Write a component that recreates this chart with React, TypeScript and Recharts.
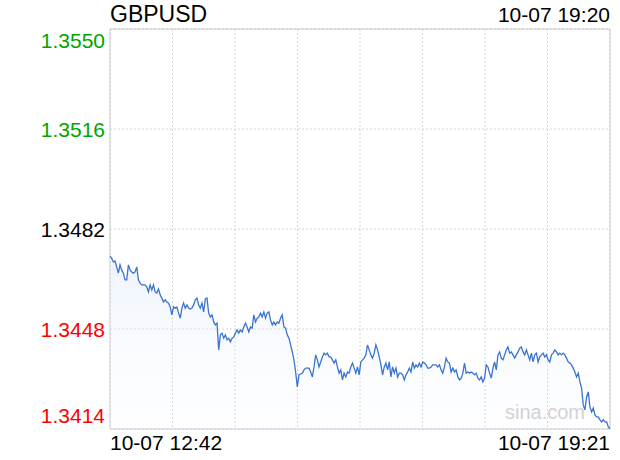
import React from 'react';
import { AreaChart, Area, XAxis, YAxis, CartesianGrid, ReferenceArea } from 'recharts';

const TITLE = 'GBPUSD';
const UPDATED = '10-07 19:20';
const TIME_LABELS = ['10-07 12:42', '10-07 19:21'];
const PRICE_TICKS = [1.355, 1.3516, 1.3482, 1.3448, 1.3414];
const PREV_CLOSE = 1.3482;

// minute prices, left to right
const PRICES = [
  1.34728, 1.34721, 1.34708, 1.34711, 1.34691, 1.3467, 1.34698, 1.34681, 1.3467, 1.34647,
  1.34647, 1.34698, 1.34681, 1.34674, 1.3467, 1.34674, 1.34691, 1.34647, 1.34636, 1.3463,
  1.3463, 1.3463, 1.34623, 1.34606, 1.3463, 1.34613, 1.3463, 1.34606, 1.34602, 1.34616,
  1.34596, 1.34585, 1.34572, 1.34579, 1.34572, 1.34568, 1.34555, 1.34528, 1.34555, 1.34551,
  1.34555, 1.34534, 1.34517, 1.34551, 1.34568, 1.34551, 1.34562, 1.34551, 1.34548, 1.34551,
  1.34562, 1.34579, 1.34585, 1.34562, 1.34551, 1.34568, 1.34538, 1.34582,
  1.34585, 1.34534, 1.34521, 1.34528, 1.34504, 1.34494, 1.345, 1.34409, 1.3446, 1.34466,
  1.34449, 1.3446, 1.34443, 1.34449, 1.34436, 1.34449, 1.34453, 1.34466, 1.34477, 1.34466,
  1.34477, 1.3447, 1.34487, 1.345, 1.34487, 1.3447, 1.34487, 1.34483, 1.34528, 1.34504,
  1.34517, 1.34521, 1.34534, 1.34521, 1.34538, 1.34517, 1.34534, 1.34538, 1.34511, 1.34494,
  1.34504, 1.34494, 1.34504, 1.345, 1.34517, 1.34528, 1.34487, 1.34483, 1.3446, 1.34449,
  1.34426, 1.34402, 1.34375, 1.34334, 1.34283, 1.34324, 1.34327, 1.3433, 1.34341, 1.34347,
  1.34347, 1.34347, 1.34334, 1.34317, 1.34351, 1.34392, 1.34375, 1.34351, 1.34368, 1.34385,
  1.34398, 1.34392, 1.34398, 1.34385, 1.34385, 1.34375, 1.34364, 1.34375, 1.34351, 1.3433,
  1.34341, 1.34307, 1.3433, 1.34317, 1.34334, 1.3433, 1.34351, 1.34364, 1.34347, 1.3433,
  1.34351, 1.34324, 1.34368, 1.34375, 1.34381, 1.34392, 1.34426, 1.34409, 1.34392, 1.34381,
  1.34398, 1.34426, 1.34409, 1.34385, 1.34358, 1.34324, 1.34351, 1.34364, 1.34341, 1.34368,
  1.34317, 1.34351, 1.3433, 1.34347, 1.34317, 1.3433, 1.3433, 1.34324, 1.34307, 1.34324,
  1.34334, 1.34347, 1.34334, 1.34368, 1.34347, 1.34358, 1.34351, 1.34364, 1.34351, 1.34368,
  1.34364, 1.34358, 1.34347, 1.34347, 1.34351, 1.34358, 1.34358, 1.34358, 1.34351, 1.34358,
  1.34341, 1.3433, 1.34351, 1.34381, 1.34368, 1.34364, 1.34334, 1.34347, 1.34334, 1.34341,
  1.34317, 1.34307, 1.34313, 1.3433, 1.34364, 1.3433, 1.34334, 1.3433, 1.34334, 1.3433,
  1.34324, 1.3433, 1.34313, 1.34307, 1.34317, 1.343, 1.34313, 1.34358, 1.34351, 1.3433,
  1.34313, 1.34347, 1.34368, 1.34341, 1.34392, 1.34402, 1.34381, 1.34375, 1.34392, 1.34409,
  1.34419, 1.34398, 1.34402, 1.34392, 1.34381, 1.34392, 1.34402, 1.34415, 1.34419, 1.34402,
  1.34392, 1.34409, 1.34392, 1.34375, 1.34398, 1.34368, 1.34392, 1.34398, 1.34368, 1.34385,
  1.34392, 1.34398, 1.34385, 1.34392, 1.34375, 1.34368, 1.34392, 1.34398, 1.34409, 1.34402,
  1.34392, 1.34398, 1.34392, 1.34398, 1.34392, 1.34381, 1.34368, 1.34364, 1.34358, 1.34347,
  1.34334, 1.34317, 1.3433, 1.343, 1.34279, 1.34222, 1.34205, 1.34249, 1.34266, 1.34215,
  1.34198, 1.34211, 1.34188, 1.34181, 1.34181, 1.34171, 1.34164, 1.34171, 1.34164, 1.34164,
  1.34147, 1.3414,
];

const FONT = 'Arial, "Liberation Sans", Helvetica, sans-serif';
const LINE_COLOR = '#3b73d1';

const data = PRICES.map((price, i) => ({ i, price }));
const last = PRICES.length - 1;
const xTicks = Array.from({ length: 9 }, (_, k) => (k * last) / 8);
const yMax = Math.max(...PRICE_TICKS);
const yMin = Math.min(...PRICE_TICKS);

const PriceTick = (props: any) => {
  const { x, y, payload } = props;
  const v = payload.value;
  const color = v > PREV_CLOSE + 1e-7 ? '#00a600' : v < PREV_CLOSE - 1e-7 ? '#ff0000' : '#000';
  let dy = 0;
  if (Math.abs(v - yMax) < 1e-7) dy = 11;
  if (Math.abs(v - yMin) < 1e-7) dy = -14;
  return (
    <text x={x + 3} y={y + dy} textAnchor="end" dominantBaseline="central" fill={color} fontSize={21} fontFamily={FONT}>
      {v.toFixed(4)}
    </text>
  );
};

const TimeTick = (props: any) => {
  const { x, y, index } = props;
  if (index !== 0 && index !== xTicks.length - 1) return <g />;
  const first = index === 0;
  return (
    <text
      x={x}
      y={y + 5}
      textAnchor={first ? 'start' : 'end'}
      dominantBaseline="central"
      fill="#000"
      fontSize={21}
      fontFamily={FONT}
    >
      {first ? TIME_LABELS[0] : TIME_LABELS[1]}
    </text>
  );
};

export default function App() {
  return (
    <div style={{ position: 'absolute', left: 0, top: 0, width: 620, height: 460, background: '#fff', fontFamily: FONT }}>
      <div style={{ position: 'absolute', left: 110, top: 3, fontSize: 23, lineHeight: '23px', color: '#000' }}>{TITLE}</div>
      <div style={{ position: 'absolute', right: 10, top: 4, fontSize: 21, lineHeight: '21px', color: '#000' }}>{UPDATED}</div>
      <div style={{ position: 'absolute', left: 505, top: 401, fontSize: 20, lineHeight: '22px', color: '#cccccc' }}>sina.com</div>
      <div style={{ position: 'absolute', left: 0, top: 0 }}>
        <AreaChart width={620} height={460} data={data} margin={{ top: 29, right: 10, bottom: 0, left: 10 }}>
          <defs>
            <linearGradient id="fillPrice" x1="0" y1="0" x2="0" y2="1">
              <stop offset="0%" stopColor="#dce7fa" stopOpacity={0.8} />
              <stop offset="100%" stopColor="#f4f8ff" stopOpacity={0.2} />
            </linearGradient>
          </defs>
          <CartesianGrid stroke="#d4d4d4" strokeDasharray="2 2" />
          <XAxis
            dataKey="i"
            type="number"
            domain={[0, last]}
            ticks={xTicks}
            interval={0}
            axisLine={false}
            tickLine={false}
            height={31}
            tick={<TimeTick />}
          />
          <YAxis
            domain={[yMin, yMax]}
            ticks={PRICE_TICKS}
            interval={0}
            allowDataOverflow
            axisLine={false}
            tickLine={false}
            width={100}
            tick={<PriceTick />}
          />
          <ReferenceArea x1={0} x2={last} y1={yMin} y2={yMax} fill="none" stroke="#cccccc" strokeWidth={1} ifOverflow="visible" />
          <Area
            type="linear"
            dataKey="price"
            stroke={LINE_COLOR}
            strokeWidth={1.3}
            fill="url(#fillPrice)"
            dot={false}
            activeDot={false}
            isAnimationActive={false}
          />
        </AreaChart>
      </div>
    </div>
  );
}
